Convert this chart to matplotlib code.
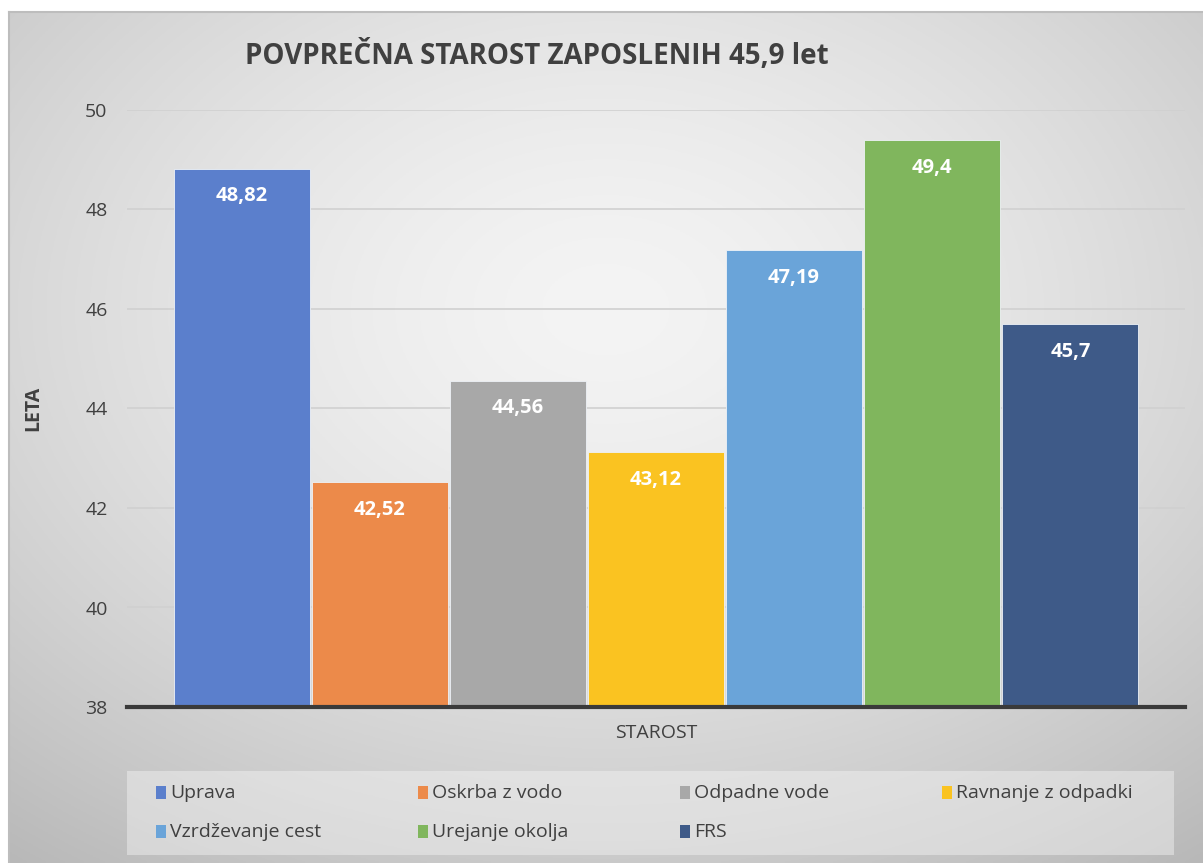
import numpy as np
import matplotlib.pyplot as plt
from matplotlib.patches import Rectangle

# data
series = ['Uprava', 'Oskrba z vodo', 'Odpadne vode', 'Ravnanje z odpadki',
          'Vzrdževanje cest', 'Urejanje okolja', 'FRS']
values = [48.82, 42.52, 44.56, 43.12, 47.19, 49.4, 45.7]
labels = ['48,82', '42,52', '44,56', '43,12', '47,19', '49,4', '45,7']
colors = ['#5b7fcc', '#ec8a4a', '#a8a8a8', '#fac321', '#6aa4d9', '#80b65d', '#3e5a88']
yticks = [38, 40, 42, 44, 46, 48, 50]

plt.rcParams['font.family'] = ['Open Sans', 'DejaVu Sans']

W, H = 1203, 863
fig = plt.figure(figsize=(W / 100, H / 100), dpi=100)
fig.patch.set_facecolor('white')

# radial gradient background
bg = fig.add_axes([9 / W, 0, (W - 9) / W, (H - 12) / H], zorder=0)
yy, xx = np.mgrid[-0.7:1.3:300j, -1:1:400j]
r = np.sqrt(xx ** 2 + yy ** 2) / np.sqrt(2)
g = np.clip((244 - 48 * r ** 1.5) / 255, 0, 1)
bg.imshow(np.dstack([g, g, g]), aspect='auto', extent=[0, 1, 0, 1])
bg.set_xticks([])
bg.set_yticks([])
for s in bg.spines.values():
    s.set_color('#bdbdbd')
    s.set_linewidth(1.5)
bg.spines['right'].set_visible(False)
bg.spines['bottom'].set_visible(False)

ax = fig.add_axes([127 / W, (H - 707) / H, (1185 - 127) / W, (707 - 110) / H], zorder=1)
ax.patch.set_alpha(0)

x = np.arange(len(values)) - 3
bars = ax.bar(x, values, width=0.985, color=colors, edgecolor='#eef2f7', linewidth=0.6, zorder=2)
for xi, v, lab in zip(x, values, labels):
    ax.annotate(lab, (xi, v), xytext=(0, -20), textcoords='offset points',
                ha='center', va='center', color='white', fontsize=14.5, fontweight='bold')

ax.set_ylim(38, 50)
ax.set_xlim(-3.83, 3.83)
ax.set_yticks(yticks)
ax.set_xticks([])
ax.tick_params(axis='y', length=0, labelsize=14, labelcolor='#404040', pad=14)
ax.yaxis.grid(True, color='#d0d0d0', linewidth=1.2, zorder=0)
ax.set_axisbelow(True)
for k in ['top', 'right', 'left']:
    ax.spines[k].set_visible(False)
ax.spines['bottom'].set_color('#3a3a3a')
ax.spines['bottom'].set_linewidth(3)
ax.spines['bottom'].set_zorder(3)

ax.set_ylabel('LETA', fontsize=14, fontweight='bold', color='#404040', labelpad=30)
ax.set_xlabel('STAROST', fontsize=14, color='#404040', labelpad=12)

fig.text(537 / W, 1 - 55 / H, 'POVPREČNA STAROST ZAPOSLENIH 45,9 let',
         ha='center', va='center', fontsize=20, fontweight='bold', color='#404040')

# legend, drawn by hand so the columns have equal width
fig.patches.append(Rectangle((127 / W, (H - 855) / H), (1174 - 127) / W, 84 / H,
                             transform=fig.transFigure, facecolor='#f4f4f4',
                             alpha=0.45, edgecolor='none', zorder=1))
col_x = [156, 418, 680, 942]
row_y = [793, 832]
for i, (name, c) in enumerate(zip(series, colors)):
    px = col_x[i % 4]
    py = row_y[i // 4]
    fig.patches.append(Rectangle((px / W, (H - py - 6) / H), 10 / W, 13 / H,
                                 transform=fig.transFigure, facecolor=c,
                                 edgecolor='none', zorder=2))
    fig.text((px + 14) / W, (H - py) / H, name, ha='left', va='center',
             fontsize=14, color='#404040', zorder=2)

fig.savefig('out.png', dpi=100)
